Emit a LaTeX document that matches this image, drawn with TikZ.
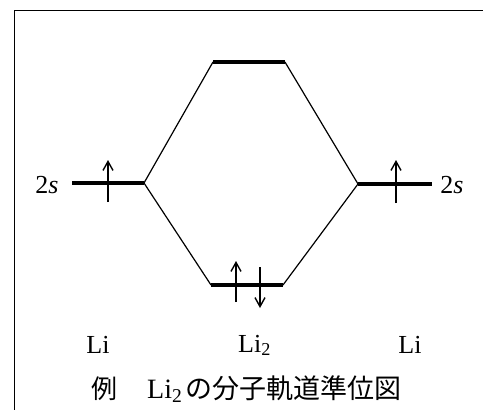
\documentclass[tikz,border=0pt]{standalone}
\usepackage{fontspec}
\setmainfont{Liberation Serif}
\newfontfamily\jafont{Noto Sans CJK JP}
\usetikzlibrary{arrows.meta}

\begin{document}
\begin{tikzpicture}[
		x=1pt, y=-1pt,
		font=\fontsize{26}{30}\selectfont,
		level/.style={line width=4pt},
		link/.style={line width=1.2pt},
		spin/.style={line width=1.4pt, -{Straight Barb[length=9pt, width=10pt, line width=1.4pt]}},
		lbl/.style={anchor=base, inner sep=0pt}
	]
	\useasboundingbox (0,0) rectangle (483,410);
	\draw[line width=1pt] (14,410) -- (14,10) -- (483,10);

	% niveaux d'energie
	\coordinate (liA) at (72,183);   \coordinate (liB) at (144,183);
	\coordinate (riA) at (358,184);  \coordinate (riB) at (432,184);
	\coordinate (abA) at (213,62);   \coordinate (abB) at (285,62);
	\coordinate (bnA) at (211,285);  \coordinate (bnB) at (283,285);

	\draw[level] (liA) -- (liB);
	\draw[level] (riA) -- (riB);
	\draw[level] (abA) -- (abB);
	\draw[level] (bnA) -- (bnB);

	\draw[link] (liB) -- (abA);
	\draw[link] (liB) -- (bnA);
	\draw[link] (abB) -- (riA);
	\draw[link] (bnB) -- (riA);

	% electrons
	\coordinate (e1a) at (108,202); \coordinate (e1b) at (108,160);
	\coordinate (e2a) at (396,203); \coordinate (e2b) at (396,160);
	\coordinate (e3a) at (236,302); \coordinate (e3b) at (236,261);
	\coordinate (e4a) at (260,267); \coordinate (e4b) at (260,308);
	\draw[spin] (e1a) -- (e1b);
	\draw[spin] (e2a) -- (e2b);
	\draw[spin] (e3a) -- (e3b);
	\draw[spin] (e4a) -- (e4b);

	% textes
	\node[lbl] (sL) at (47,193) {2\textit{s}};
	\node[lbl] (sR) at (452,193) {2\textit{s}};
	\node[lbl] (atL) at (98,353) {Li};
	\node[lbl, anchor=base west] (mol) at (238,352) {Li\textsubscript{2}};
	\node[lbl] (atR) at (410,353) {Li};
	\node[lbl, anchor=base west] (cap) at (91,398)
		{\fontsize{28}{30}\selectfont{\jafont\fontsize{26}{30}\selectfont 例}\hspace{30pt}Li\textsubscript{2}\hspace{3pt}{\jafont\fontsize{27}{30}\selectfont の分子軌道準位図}};
\end{tikzpicture}
\end{document}
